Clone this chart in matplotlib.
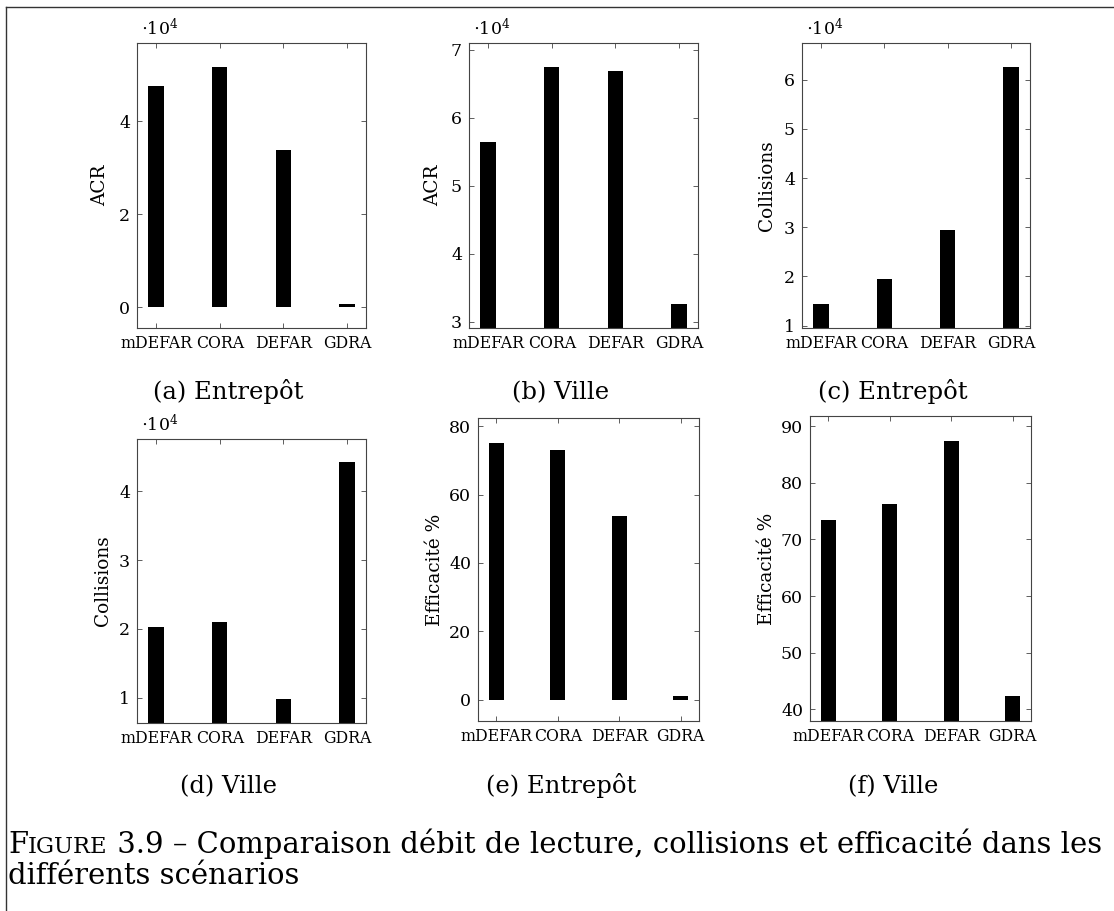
import numpy as np
import matplotlib.pyplot as plt
from matplotlib.lines import Line2D
from matplotlib.ticker import FuncFormatter

# ============================================================
# DATA
# ============================================================

methods = ["mDEFAR", "CORA", "DEFAR", "GDRA"]

acr_entrepot = [47500, 51700, 33800, 700]
acr_ville = [56400, 67500, 66900, 32700]
coll_entrepot = [14400, 19400, 29400, 62700]
coll_ville = [20300, 21000, 9750, 44200]
eff_entrepot = [75.0, 72.9, 53.6, 1.2]
eff_ville = [73.5, 76.3, 87.4, 42.4]

sub_captions = ["(a) Entrepôt", "(b) Ville", "(c) Entrepôt",
                "(d) Ville", "(e) Entrepôt", "(f) Ville"]
y_labels = ["ACR", "ACR", "Collisions", "Collisions", "Efficacité %", "Efficacité %"]

caption_head = ["F", "IGURE"]   # small caps
caption_1 = " 3.9 – Comparaison débit de lecture, collisions et efficacité dans les"
caption_2 = "différents scénarios"

# ============================================================
# LAYOUT (pixels)
# ============================================================

W, H = 1114, 911

panels = [
    # values, ylim, yticks, scaled by 1e4, axes rect (l, t, r, b), caption (x, y), ylabel offset
    (acr_entrepot,  (-4500, 56800), [0, 20000, 40000], True, (137, 43, 366, 328), (228, 399), 37),
    (acr_ville,     (29100, 71000), [30000, 40000, 50000, 60000, 70000], True, (469, 43, 698, 328), (561, 399), 36),
    (coll_entrepot, (9500, 67500), [10000, 20000, 30000, 40000, 50000, 60000], True, (802, 43, 1030, 328), (893, 399), 35),
    (coll_ville,    (6300, 47600), [10000, 20000, 30000, 40000], True, (137, 439, 366, 723), (229, 793), 34),
    (eff_entrepot,  (-6.24, 82.4), [0, 20, 40, 60, 80], False, (478, 418, 699, 721), (561, 793), 43),
    (eff_ville,     (37.94, 91.8), [40, 50, 60, 70, 80, 90], False, (810, 416, 1031, 721), (893, 793), 43),
]

plt.rcParams['font.family'] = 'DejaVu Serif'
plt.rcParams['mathtext.fontset'] = 'dejavuserif'

fig = plt.figure(figsize=(W / 100, H / 100), dpi=100)

spine_col = "#444444"

for i, (vals, ylim, yticks, scaled, rect, cap, ylab_off) in enumerate(panels):
    l, t, r, b = rect
    ax = fig.add_axes([l / W, 1 - b / H, (r - l) / W, (b - t) / H])
    ax.set_axisbelow(True)
    x = np.arange(len(methods))
    ax.bar(x, vals, width=0.245, color="black")

    ax.set_xlim(-0.3, 3.3)
    ax.set_ylim(*ylim)
    ax.set_xticks(x)
    ax.set_xticklabels(methods, fontsize=11.3)
    ax.set_yticks(yticks)
    if scaled:
        ax.yaxis.set_major_formatter(FuncFormatter(lambda v, p: f"{v / 1e4:g}"))
        ax.annotate(r"$\cdot 10^4$", xy=(0, 1), xycoords="axes fraction",
                    xytext=(3, 6), textcoords="offset points",
                    ha="left", va="baseline", fontsize=12.5)
    else:
        ax.yaxis.set_major_formatter(FuncFormatter(lambda v, p: f"{v:g}"))

    ax.tick_params(axis="both", direction="in", length=3.8, width=0.6,
                   color=spine_col, pad=5)
    ax.tick_params(axis="x", top=True, labelsize=11.3)
    ax.tick_params(axis="y", right=True, labelsize=12.5)
    for s in ax.spines.values():
        s.set_color(spine_col)
        s.set_linewidth(0.8)

    ax.set_ylabel(y_labels[i], fontsize=13.3)
    ax.yaxis.set_label_coords(-ylab_off / (r - l), 0.5)
    ax.yaxis.label.set_verticalalignment("center")

    fig.text(cap[0] / W, 1 - cap[1] / H, sub_captions[i],
             ha="center", va="baseline", fontsize=17.5)

# figure frame (left and top edges visible)
fig.add_artist(Line2D([6 / W, 6 / W], [1 - 7 / H, 0], color="#333333", lw=1.0))
fig.add_artist(Line2D([6 / W, 1], [1 - 7 / H, 1 - 7 / H], color="#333333", lw=1.0))

# ------------------------------------------------------------
# Caption, fitted to the text width
# ------------------------------------------------------------
renderer = fig.canvas.get_renderer()
x0, x1 = 8, 1100
base1, base2 = 853, 884

size = 20.0
pieces = [
    fig.text(0, 1 - base1 / H, caption_head[0], va="baseline", fontsize=size),
    fig.text(0, 1 - base1 / H, caption_head[1], va="baseline", fontsize=size * 0.78),
    fig.text(0, 1 - base1 / H, caption_1, va="baseline", fontsize=size),
]
total = sum(p.get_window_extent(renderer=renderer).width for p in pieces)
size = size * (x1 - x0) / total
pieces[0].set_fontsize(size)
pieces[1].set_fontsize(size * 0.78)
pieces[2].set_fontsize(size)

xpos = x0
for p in pieces:
    p.set_x(xpos / W)
    xpos += p.get_window_extent(renderer=renderer).width

fig.text(x0 / W, 1 - base2 / H, caption_2, va="baseline", fontsize=size)

fig.savefig("out.png", dpi=100)
